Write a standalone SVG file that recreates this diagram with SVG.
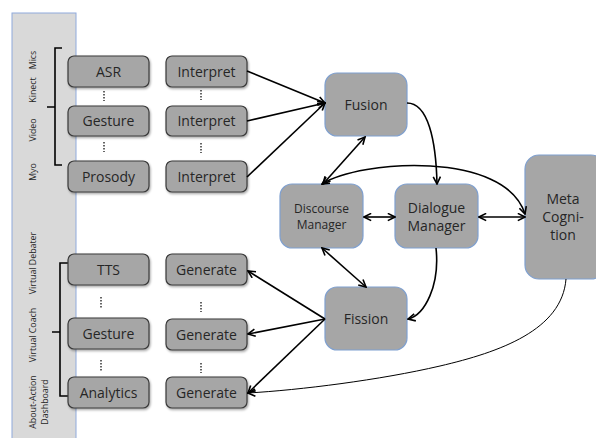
<svg xmlns="http://www.w3.org/2000/svg" width="596" height="438" viewBox="0 0 596 438">
<defs>
<style>
.side{fill:#d9d9d9;stroke:#8faadc;stroke-width:1}
.io{fill:#a6a6a6;stroke:#3a3a3a;stroke-width:1.2}
.core{fill:#a6a6a6;stroke:#7fa0d0;stroke-width:1.2}
.t{font-family:"Open Sans","Liberation Sans",sans-serif;font-size:14px;fill:#262626;text-anchor:middle}
.ts{font-family:"Open Sans","Liberation Sans",sans-serif;font-size:12px;fill:#262626;text-anchor:middle}
.lab{font-family:"Open Sans","Liberation Sans",sans-serif;font-size:8.8px;fill:#262626;text-anchor:middle}
.c{fill:none;stroke:#000;stroke-width:1.6}
.thin{fill:none;stroke:#000;stroke-width:1}
.br{fill:none;stroke:#000;stroke-width:1.6}
.dots{stroke:#333;stroke-width:1.5;stroke-dasharray:1.5 1.5}
</style>
<marker id="ah" viewBox="0 0 10 10" refX="9" refY="5" markerWidth="9" markerHeight="9" markerUnits="userSpaceOnUse" orient="auto-start-reverse">
<path d="M1,1 L9,5 L1,9" fill="none" stroke="#000" stroke-width="1.8"/>
</marker>
<filter id="sh" x="-10%" y="-10%" width="130%" height="140%">
<feDropShadow dx="1" dy="1.5" stdDeviation="1" flood-color="#000" flood-opacity="0.35"/>
</filter>
</defs>
<rect width="596" height="438" fill="#fff"/>
<g id="sidepanel">
<rect class="side" x="12" y="13" width="64" height="430"/>
<text class="lab" transform="translate(36,60) rotate(-90)">Mics</text>
<text class="lab" transform="translate(36,90) rotate(-90)">Kinect</text>
<text class="lab" transform="translate(36,130) rotate(-90)">Video</text>
<text class="lab" transform="translate(36,172) rotate(-90)">Myo</text>
<text class="lab" transform="translate(36,263) rotate(-90)">Virtual Debater</text>
<text class="lab" transform="translate(36,335) rotate(-90)">Virtual Coach</text>
<text class="lab" transform="translate(36,402) rotate(-90)">About-Action</text>
<text class="lab" transform="translate(48,402) rotate(-90)">Dashboard</text>
</g>
<g id="brackets">
<path class="br" d="M62,48 H55 V165 H62 M55,107 H47"/>
<path class="br" d="M68,263 H60 V396 H68 M60,332 H52"/>
</g>
<g id="asr"><rect class="io" filter="url(#sh)" x="68" y="56" width="81" height="31" rx="6"/><text class="t" x="108.5" y="76.5">ASR</text></g>
<g id="gesture-in"><rect class="io" filter="url(#sh)" x="68" y="106" width="81" height="30" rx="6"/><text class="t" x="108.5" y="126">Gesture</text></g>
<g id="prosody"><rect class="io" filter="url(#sh)" x="68" y="161" width="81" height="31" rx="6"/><text class="t" x="108.5" y="181.5">Prosody</text></g>
<g id="interpret1"><rect class="io" filter="url(#sh)" x="166" y="56" width="81" height="31" rx="6"/><text class="t" x="206.5" y="76.5">Interpret</text></g>
<g id="interpret2"><rect class="io" filter="url(#sh)" x="166" y="106" width="81" height="30" rx="6"/><text class="t" x="206.5" y="126">Interpret</text></g>
<g id="interpret3"><rect class="io" filter="url(#sh)" x="166" y="161" width="81" height="31" rx="6"/><text class="t" x="206.5" y="181.5">Interpret</text></g>
<g id="tts"><rect class="io" filter="url(#sh)" x="68" y="254" width="81" height="31" rx="6"/><text class="t" x="108.5" y="274.5">TTS</text></g>
<g id="gesture-out"><rect class="io" filter="url(#sh)" x="68" y="318" width="81" height="31" rx="6"/><text class="t" x="108.5" y="338.5">Gesture</text></g>
<g id="analytics"><rect class="io" filter="url(#sh)" x="68" y="377" width="81" height="31" rx="6"/><text class="t" x="108.5" y="397.5">Analytics</text></g>
<g id="generate1"><rect class="io" filter="url(#sh)" x="166" y="254" width="81" height="31" rx="6"/><text class="t" x="206.5" y="274.5">Generate</text></g>
<g id="generate2"><rect class="io" filter="url(#sh)" x="166" y="319" width="81" height="31" rx="6"/><text class="t" x="206.5" y="339.5">Generate</text></g>
<g id="generate3"><rect class="io" filter="url(#sh)" x="166" y="377" width="81" height="31" rx="6"/><text class="t" x="206.5" y="397.5">Generate</text></g>
<g id="ellipses">
<line class="dots" x1="104" y1="91" x2="104" y2="101"/>
<line class="dots" x1="104" y1="142" x2="104" y2="152"/>
<line class="dots" x1="201" y1="90" x2="201" y2="100"/>
<line class="dots" x1="201" y1="143" x2="201" y2="153"/>
<line class="dots" x1="101" y1="297" x2="101" y2="308"/>
<line class="dots" x1="101" y1="360" x2="101" y2="371"/>
<line class="dots" x1="201" y1="302" x2="201" y2="312"/>
<line class="dots" x1="201" y1="363" x2="201" y2="373"/>
</g>
<g id="fusion"><rect class="core" x="325" y="73" width="82" height="63" rx="12"/><text class="t" x="366" y="110">Fusion</text></g>
<g id="discourse"><rect class="core" x="280" y="184" width="83" height="64" rx="12"/><text class="ts" x="321.5" y="213">Discourse</text><text class="ts" x="321.5" y="229">Manager</text></g>
<g id="dialogue"><rect class="core" x="395" y="184" width="83" height="64" rx="12"/><text class="t" x="436.5" y="213">Dialogue</text><text class="t" x="436.5" y="231">Manager</text></g>
<g id="meta"><rect class="core" x="525" y="155" width="80" height="124" rx="14"/><text class="t" x="563" y="204">Meta</text><text class="t" x="563" y="222">Cogni-</text><text class="t" x="563" y="240">tion</text></g>
<g id="fission"><rect class="core" x="325" y="287" width="82" height="63" rx="12"/><text class="t" x="366" y="324">Fission</text></g>
<g id="connectors">
<line class="c" x1="247" y1="71" x2="325" y2="103" marker-end="url(#ah)"/>
<line class="c" x1="247" y1="121" x2="325" y2="103" marker-end="url(#ah)"/>
<line class="c" x1="247" y1="177" x2="325" y2="103" marker-end="url(#ah)"/>
<line class="c" x1="365" y1="137" x2="323" y2="184" marker-start="url(#ah)" marker-end="url(#ah)"/>
<path class="c" d="M407,103 C428,103 436,140 437,184" marker-end="url(#ah)"/>
<path class="c" d="M322,184 C360,160 505,150 525,214" marker-start="url(#ah)" marker-end="url(#ah)"/>
<line class="c" x1="364" y1="217" x2="395" y2="217" marker-start="url(#ah)" marker-end="url(#ah)"/>
<line class="c" x1="479" y1="217" x2="525" y2="217" marker-start="url(#ah)" marker-end="url(#ah)"/>
<line class="c" x1="322" y1="248" x2="366" y2="287" marker-start="url(#ah)" marker-end="url(#ah)"/>
<path class="c" d="M436,248 C440,285 425,315 408,319" marker-end="url(#ah)"/>
<line class="c" x1="325" y1="319" x2="248" y2="271" marker-end="url(#ah)"/>
<line class="c" x1="325" y1="319" x2="248" y2="334" marker-end="url(#ah)"/>
<line class="c" x1="325" y1="319" x2="248" y2="393" marker-end="url(#ah)"/>
<path class="thin" d="M566,279 C562,330 500,352 440,366 C380,380 300,390 248,393" marker-end="url(#ah)"/>
</g>
</svg>
